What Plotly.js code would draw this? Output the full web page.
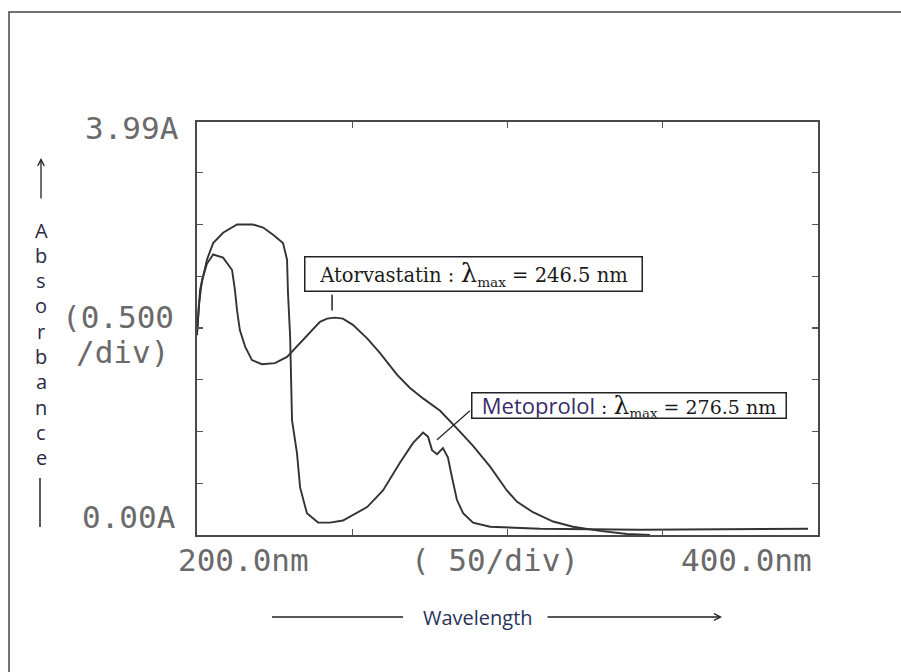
<!DOCTYPE html>
<html>
<head>
<meta charset="utf-8">
<script src="https://cdn.plot.ly/plotly-3.0.1.min.js"></script>
<style>html,body{margin:0;padding:0;background:#fff;}#chart{width:901px;height:672px;}</style>
</head>
<body>
<div id="chart"></div>
<script>
// Atorvastatin spectrum (wavelength nm, absorbance A)
const wlAtor = [200.0, 200.6, 201.6, 203.2, 205.2, 208.4, 211.3, 212.2, 212.9, 213.8, 215.5, 217.7, 220.9, 225.1, 229.0, 232.2, 236.4, 239.6, 241.9, 244.4, 247.0, 250.2, 254.8, 258.9, 264.4, 268.6, 272.8, 278.3, 283.7, 288.9, 294.4, 299.8, 303.1, 308.2, 314.7, 321.1, 329.8, 338.5, 345.9];
const absAtor = [1.96, 2.22, 2.46, 2.62, 2.71, 2.68, 2.56, 2.37, 2.17, 1.98, 1.82, 1.69, 1.65, 1.66, 1.72, 1.82, 1.95, 2.06, 2.09, 2.10, 2.09, 2.03, 1.90, 1.76, 1.55, 1.42, 1.32, 1.20, 1.03, 0.86, 0.66, 0.43, 0.32, 0.22, 0.13, 0.08, 0.04, 0.01, 0.00];
// Metoprolol spectrum
const wlMeto = [200.0, 201.0, 203.2, 205.2, 208.4, 212.9, 218.0, 221.3, 224.5, 227.7, 229.0, 229.3, 230.0, 230.3, 230.6, 232.2, 233.2, 235.4, 239.0, 242.8, 247.0, 254.8, 259.9, 265.4, 269.6, 272.8, 274.4, 275.7, 277.3, 279.2, 280.8, 282.1, 283.7, 285.7, 288.9, 294.4, 310.5, 342.7, 396.8];
const absMeto = [1.93, 2.37, 2.66, 2.82, 2.92, 3.00, 3.00, 2.97, 2.90, 2.82, 2.66, 2.34, 1.91, 1.59, 1.11, 0.79, 0.46, 0.21, 0.12, 0.12, 0.14, 0.27, 0.43, 0.70, 0.89, 0.99, 0.95, 0.82, 0.78, 0.84, 0.75, 0.56, 0.34, 0.21, 0.12, 0.08, 0.06, 0.05, 0.06];
// axis ticks & labels
const xTicks = [250, 300, 350];
const yTicks = [0.5, 1.0, 1.5, 2.0, 2.5, 3.0, 3.5];
const yTopLabel = "3.99A";
const yBottomLabel = "0.00A";
const yScaleLabel = ["(0.500", "/div)"];
const xLeftLabel = "200.0nm";
const xMidLabel = "( 50/div)";
const xRightLabel = "400.0nm";
const yTitleLetters = "Absorbance".split("");
const xTitle = "Wavelength";

// pixel helpers for layout decoration (plot area 197..818 x 122..535)
const L = 197, R = 818, T = 122, B = 535;
const px = v => (v - L) / (R - L);
const py = v => (B - v) / (B - T);

const lineStyle = {color: '#333333', width: 1.9};
const traces = [
  {x: wlAtor, y: absAtor, type: 'scatter', mode: 'lines', line: lineStyle, name: 'Atorvastatin', hoverinfo: 'skip'},
  {x: wlMeto, y: absMeto, type: 'scatter', mode: 'lines', line: lineStyle, name: 'Metoprolol', hoverinfo: 'skip'}
];

const dot = {family: 'DejaVu Sans Mono', size: 31, color: '#6a6a6a'};
const ann = [
  {xref: 'paper', yref: 'paper', x: px(181), y: py(128), xanchor: 'right', yanchor: 'middle', text: yTopLabel, showarrow: false, font: dot},
  {xref: 'paper', yref: 'paper', x: px(176), y: py(317), xanchor: 'right', yanchor: 'middle', text: yScaleLabel[0], showarrow: false, font: dot},
  {xref: 'paper', yref: 'paper', x: px(171), y: py(352), xanchor: 'right', yanchor: 'middle', text: yScaleLabel[1], showarrow: false, font: dot},
  {xref: 'paper', yref: 'paper', x: px(178), y: py(517), xanchor: 'right', yanchor: 'middle', text: yBottomLabel, showarrow: false, font: dot},
  {xref: 'paper', yref: 'paper', x: px(176), y: py(560), xanchor: 'left', yanchor: 'middle', text: xLeftLabel, showarrow: false, font: dot},
  {xref: 'paper', yref: 'paper', x: px(409), y: py(560), xanchor: 'left', yanchor: 'middle', text: xMidLabel, showarrow: false, font: dot},
  {xref: 'paper', yref: 'paper', x: px(679), y: py(560), xanchor: 'left', yanchor: 'middle', text: xRightLabel, showarrow: false, font: dot},
  // up arrow
  {xref: 'paper', yref: 'paper', x: px(41), y: py(158), ax: 0, ay: 42, text: '', showarrow: true, arrowhead: 5, arrowsize: 1, arrowwidth: 1.3, arrowcolor: '#222'},
  // wavelength
  {xref: 'paper', yref: 'paper', x: px(478), y: py(617), xanchor: 'center', yanchor: 'middle', text: xTitle, showarrow: false,
   font: {family: 'Open Sans', size: 20, color: '#2a3458'}},
  {xref: 'paper', yref: 'paper', x: px(722), y: py(617), ax: -176, ay: 0, text: '', showarrow: true, arrowhead: 5, arrowsize: 1, arrowwidth: 1.3, arrowcolor: '#222'},
  // label boxes
  {xref: 'paper', yref: 'paper', x: px(473), y: py(273.5), xanchor: 'center', yanchor: 'middle', showarrow: false,
   text: 'Atorvastatin : <span style="font-size:26px">λ</span><sub>max</sub> = 246.5 nm',
   font: {family: 'DejaVu Serif', size: 19.5, color: '#1a1a1a'}, bgcolor: '#fff', bordercolor: '#222', borderwidth: 1.5, borderpad: 0, width: 336, height: 33},
  {xref: 'paper', yref: 'paper', x: px(628.5), y: py(405.5), xanchor: 'center', yanchor: 'middle', showarrow: false,
   text: '<span style="font-family:Open Sans;color:#3a2a6a;font-size:22px">Metoprolol</span> : <span style="font-size:25px">λ</span><sub>max</sub> = 276.5 nm',
   font: {family: 'DejaVu Serif', size: 19, color: '#1a1a1a'}, bgcolor: '#fff', bordercolor: '#222', borderwidth: 1.5, borderpad: 0, width: 313, height: 24}
];
// y title: one letter per line
yTitleLetters.forEach((ch, i) => {
  ann.push({xref: 'paper', yref: 'paper', x: px(41), y: py(230 + i * 25.3), xanchor: 'center', yanchor: 'middle', text: ch, showarrow: false,
    font: {family: 'Open Sans', size: 20, color: '#2a2a44'}});
});

const shapes = [
  // outer frame
  {type: 'rect', xref: 'paper', yref: 'paper', x0: px(9), x1: px(906), y0: py(700), y1: py(12), line: {color: '#444', width: 1.5}},
  // y title tail line
  {type: 'line', xref: 'paper', yref: 'paper', x0: px(40), x1: px(40), y0: py(478), y1: py(527), line: {color: '#333', width: 1.6}},
  // wavelength left line
  {type: 'line', xref: 'paper', yref: 'paper', x0: px(272), x1: px(403), y0: py(617), y1: py(617), line: {color: '#222', width: 1.3}},
  // pointer lines
  {type: 'line', xref: 'x', yref: 'y', x0: 243.5, x1: 243.5, y0: 2.17, y1: 2.32, line: {color: '#222', width: 1.5}},
  {type: 'line', xref: 'x', yref: 'y', x0: 287.9, x1: 277.3, y0: 1.20, y1: 0.92, line: {color: '#222', width: 1.2}}
];

const axisCommon = {showgrid: false, zeroline: false, showline: true, linecolor: '#4a4a4a', linewidth: 2,
  mirror: 'ticks', ticks: 'inside', ticklen: 6, tickwidth: 1.2, tickcolor: '#555', showticklabels: false, fixedrange: true};

const layout = {
  width: 901, height: 672,
  margin: {l: L, r: 901 - R, t: T, b: 672 - B, pad: 0},
  paper_bgcolor: '#fff', plot_bgcolor: '#fff',
  showlegend: false,
  xaxis: Object.assign({}, axisCommon, {range: [200, 400], tickvals: xTicks}),
  yaxis: Object.assign({}, axisCommon, {range: [0, 3.99], tickvals: yTicks}),
  annotations: ann,
  shapes: shapes
};

Plotly.newPlot('chart', traces, layout, {displayModeBar: false, staticPlot: true});
</script>
</body>
</html>
